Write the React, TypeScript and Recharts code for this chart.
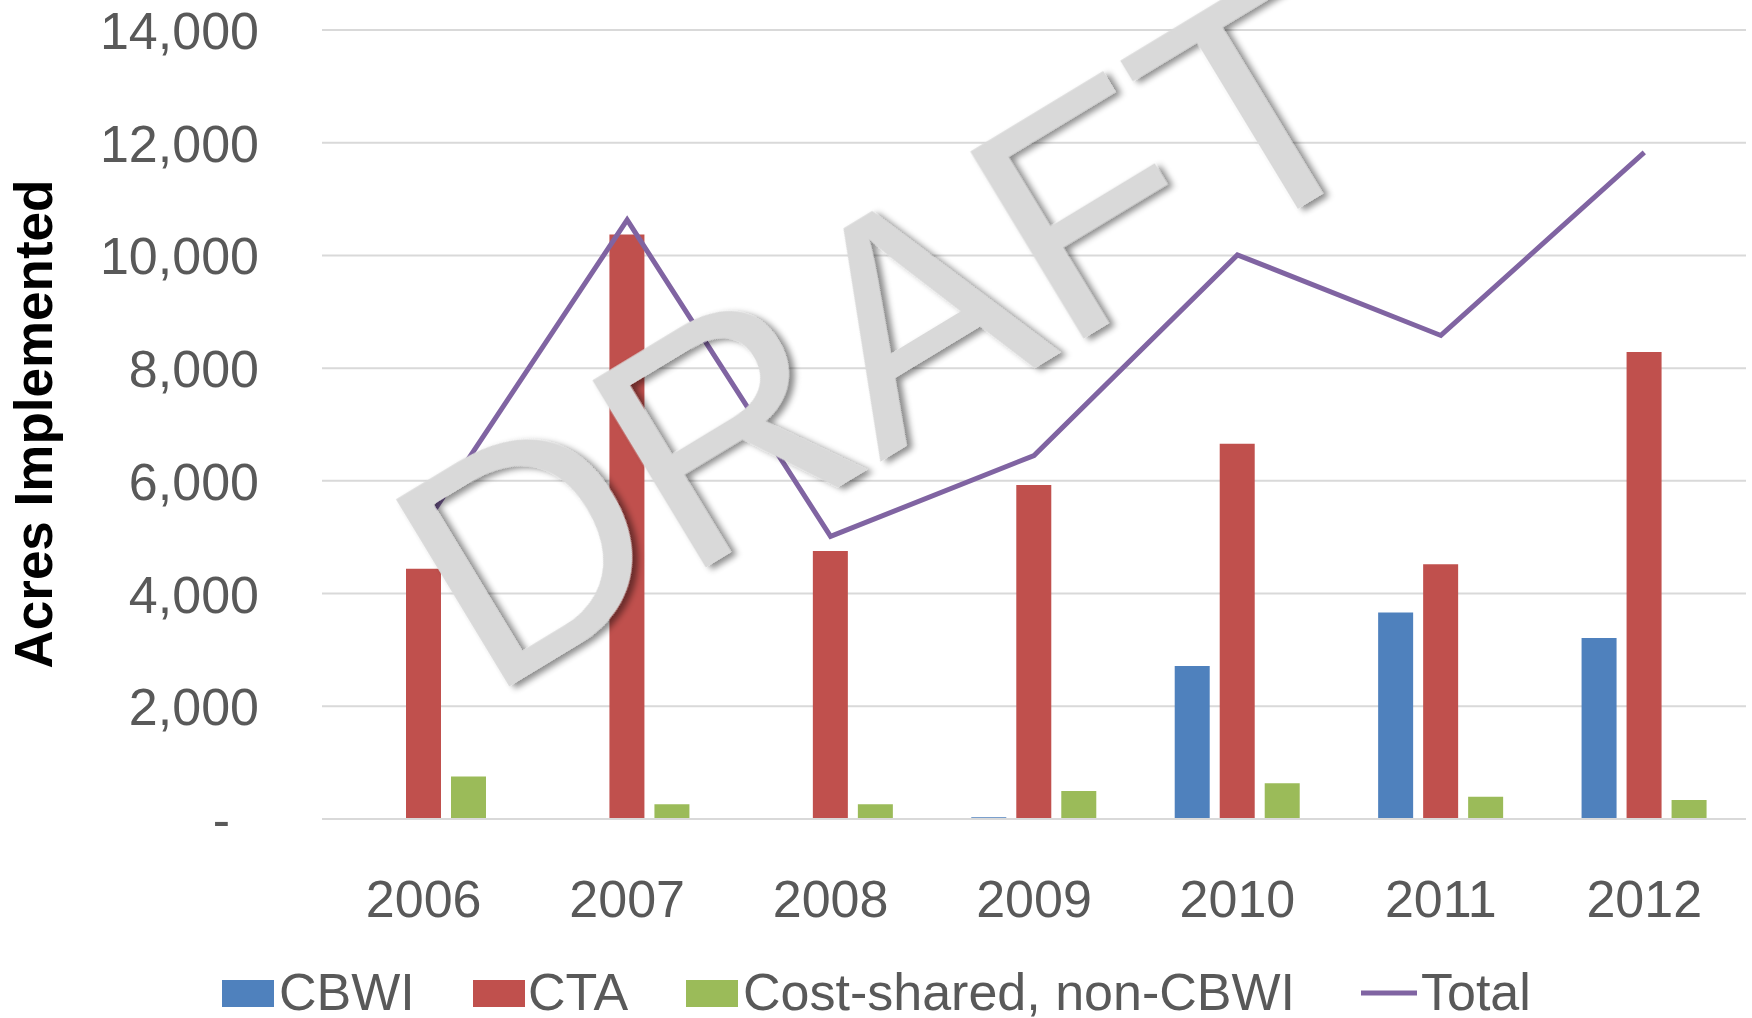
import { ComposedChart, Bar, Line, XAxis, YAxis, CartesianGrid } from 'recharts'

const YEARS = ['2006', '2007', '2008', '2009', '2010', '2011', '2012']
const CBWI = [0, 0, 0, 30, 2715, 3665, 3210]
const CTA = [4440, 10370, 4755, 5925, 6660, 4520, 8285]
const COST_SHARED = [755, 260, 260, 495, 635, 395, 335]
const TOTAL = [5195, 10630, 5015, 6450, 10010, 8580, 11830]
const Y_TICKS = [0, 2000, 4000, 6000, 8000, 10000, 12000, 14000]

const COLORS = {
    cbwi: '#4f81bd',
    cta: '#c0504d',
    costShared: '#9bbb59',
    total: '#8064a2',
}

const FONT = '"Liberation Sans", Arial, sans-serif'
const TEXT_COLOR = '#595959'

const data = YEARS.map((year, i) => ({
    year,
    cbwi: CBWI[i],
    cta: CTA[i],
    costShared: COST_SHARED[i],
    total: TOTAL[i],
}))

const LEGEND = [
    { label: 'CBWI', color: COLORS.cbwi, kind: 'rect', x: 222, textX: 279 },
    { label: 'CTA', color: COLORS.cta, kind: 'rect', x: 473, textX: 528 },
    { label: 'Cost-shared, non-CBWI', color: COLORS.costShared, kind: 'rect', x: 686, textX: 743 },
    { label: 'Total', color: COLORS.total, kind: 'line', x: 1361, textX: 1421 },
]

const YTick = ({ x, y, payload }: any) => {
    const v = payload.value as number
    if (v === 0) {
        return (
            <text x={x - 29} y={y + 19} textAnchor="end" fill={TEXT_COLOR} fontSize={52} fontFamily={FONT}>
                -
            </text>
        )
    }
    return (
        <text x={x} y={y + 19} textAnchor="end" fill={TEXT_COLOR} fontSize={52} fontFamily={FONT}>
            {v.toLocaleString('en-US')}
        </text>
    )
}

const XTick = ({ x, y, payload }: any) => (
    <text x={x} y={y} textAnchor="middle" fill={TEXT_COLOR} fontSize={52} fontFamily={FONT}>
        {payload.value}
    </text>
)

export default function App() {
    return (
        <div style={{ position: 'absolute', left: 0, top: 0, width: 1752, height: 1018, background: '#fff', overflow: 'hidden' }}>
            <ComposedChart
                width={1752}
                height={1018}
                data={data}
                margin={{ top: 30, right: 6, left: 0, bottom: 0 }}
                barSize={35}
                barGap={10}
            >
                <CartesianGrid vertical={false} stroke="#d9d9d9" strokeWidth={2} />
                <XAxis
                    dataKey="year"
                    height={199}
                    axisLine={{ stroke: '#d9d9d9', strokeWidth: 2 }}
                    tickLine={false}
                    tickSize={0}
                    tickMargin={98}
                    tick={<XTick />}
                    interval={0}
                />
                <YAxis
                    width={322}
                    domain={[0, 14000]}
                    ticks={Y_TICKS}
                    interval={0}
                    axisLine={false}
                    tickLine={false}
                    tickSize={0}
                    tickMargin={63}
                    tick={<YTick />}
                />
                <Bar dataKey="cbwi" name="CBWI" fill={COLORS.cbwi} isAnimationActive={false} />
                <Bar dataKey="cta" name="CTA" fill={COLORS.cta} isAnimationActive={false} />
                <Bar dataKey="costShared" name="Cost-shared, non-CBWI" fill={COLORS.costShared} isAnimationActive={false} />
                <Line
                    dataKey="total"
                    name="Total"
                    type="linear"
                    stroke={COLORS.total}
                    strokeWidth={5}
                    dot={false}
                    activeDot={false}
                    isAnimationActive={false}
                />
            </ComposedChart>

            {/* axis title, legend and the DRAFT watermark sit on top of the chart */}
            <svg width={1752} height={1018} style={{ position: 'absolute', left: 0, top: 0, pointerEvents: 'none' }}>
                <defs>
                    <filter id="draftShadow" x="-10%" y="-10%" width="120%" height="130%">
                        <feDropShadow dx={4} dy={5} stdDeviation={3} floodColor="#000" floodOpacity={0.45} />
                    </filter>
                </defs>
                <text
                    transform="translate(52, 424) rotate(-90)"
                    textAnchor="middle"
                    fontSize={53}
                    fontWeight="bold"
                    fontFamily={FONT}
                    fill="#000"
                >
                    Acres Implemented
                </text>

                {LEGEND.map((item) => (
                    <g key={item.label}>
                        {item.kind === 'rect' ? (
                            <rect x={item.x} y={980} width={52} height={27} fill={item.color} />
                        ) : (
                            <line x1={item.x} x2={item.x + 56} y1={993} y2={993} stroke={item.color} strokeWidth={5} />
                        )}
                        <text x={item.textX} y={1010} fontSize={52} fontFamily={FONT} fill={TEXT_COLOR}>
                            {item.label}
                        </text>
                    </g>
                ))}

                <text
                    transform="translate(487, 700) rotate(-31.2)"
                    fontSize={318}
                    fontFamily={FONT}
                    fill="#d9d9d9"
                    filter="url(#draftShadow)"
                >
                    DRAFT
                </text>
            </svg>
        </div>
    )
}
